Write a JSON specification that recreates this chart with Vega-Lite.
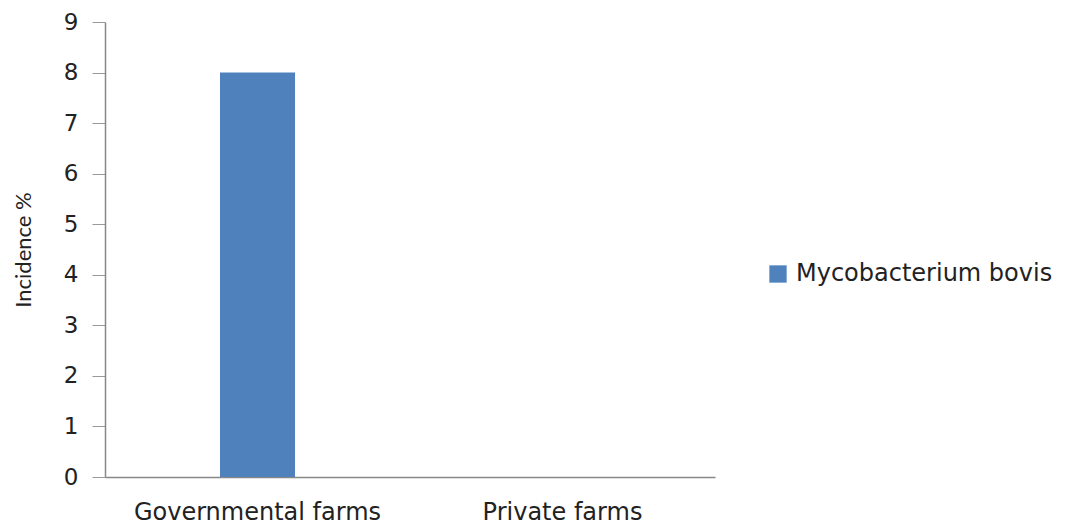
{
  "$schema": "https://vega.github.io/schema/vega-lite/v6.json",
  "autosize": "none",
  "padding": {"left": 105, "top": 22, "right": 357, "bottom": 55},
  "width": 610,
  "height": 455,
  "background": "white",
  "config": {"view": {"stroke": null}},
  "data": {"values": [
    {"farm": "Governmental farms", "series": "Mycobacterium bovis", "incidence": 8},
    {"farm": "Private farms", "series": "Mycobacterium bovis", "incidence": 0}
  ]},
  "mark": {"type": "bar"},
  "encoding": {
    "x": {
      "field": "farm", "type": "nominal", "sort": null,
      "scale": {"paddingInner": 0.754, "paddingOuter": 0.377},
      "axis": {"title": null, "labelAngle": 0, "labelLimit": 0, "labelFont": "DejaVu Sans", "labelFontSize": 24, "labelColor": "#222", "labelPadding": 23, "ticks": false, "domainColor": "#888", "domainWidth": 1.5}
    },
    "y": {
      "field": "incidence", "type": "quantitative",
      "scale": {"domain": [0, 9], "nice": false},
      "axis": {"title": "Incidence %", "titleFont": "Lato", "titleFontSize": 22, "titleFontWeight": "normal", "titleColor": "#222", "titlePadding": 28, "values": [0,1,2,3,4,5,6,7,8,9], "grid": false, "tickSize": 13, "tickColor": "#999", "domainColor": "#888", "domainWidth": 1.5, "labelFont": "DejaVu Sans", "labelFontSize": 23, "labelColor": "#222", "labelPadding": 14}
    },
    "color": {
      "field": "series", "type": "nominal",
      "scale": {"range": ["#4F81BD"]},
      "legend": {"title": null, "orient": "none", "legendX": 661, "legendY": 240, "symbolType": "square", "symbolSize": 300, "labelLimit": 0, "labelFont": "DejaVu Sans", "labelFontSize": 24, "labelColor": "#222", "labelOffset": 6}
    }
  }
}
